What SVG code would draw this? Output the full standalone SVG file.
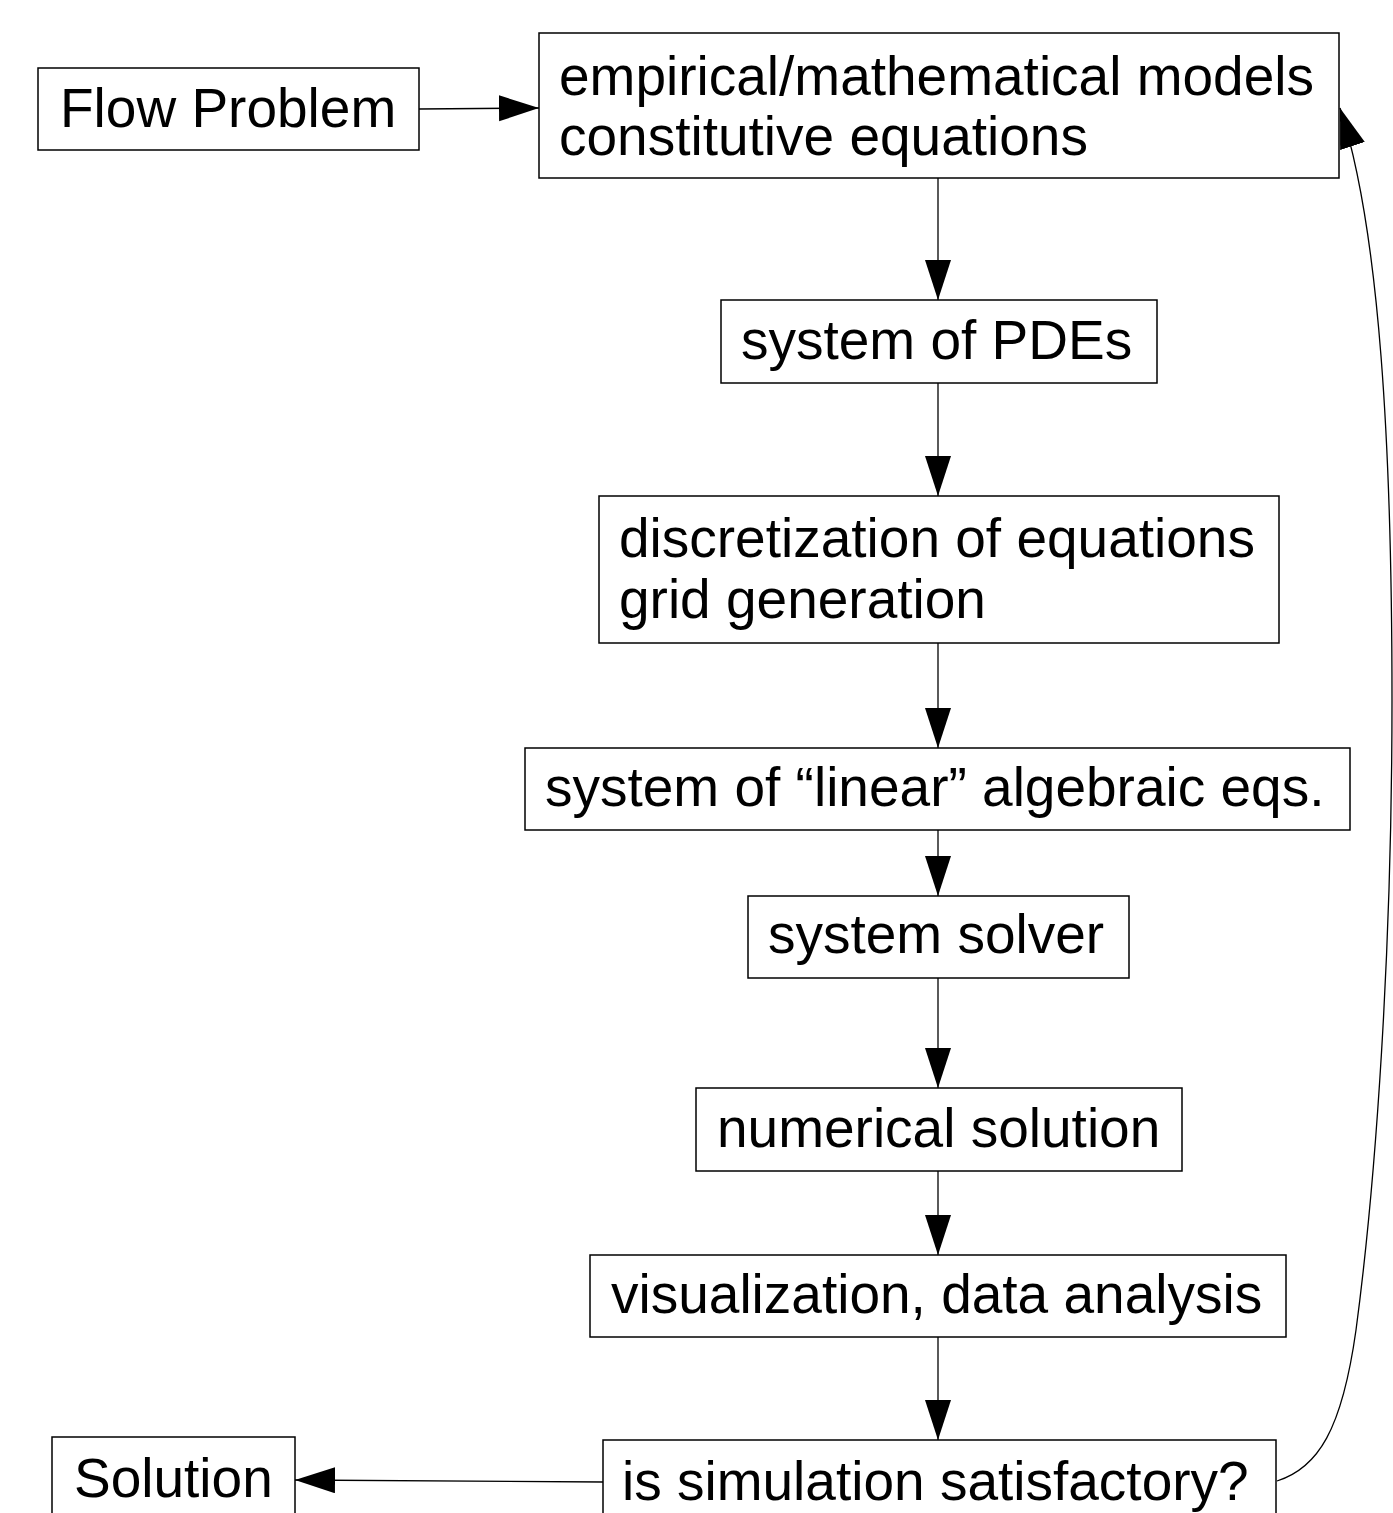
<svg xmlns="http://www.w3.org/2000/svg" width="1393" height="1513" viewBox="0 0 1393 1513">
<style>
.box{fill:#fff;stroke:#000;stroke-width:1.5}
.t{font-family:"Liberation Sans",Arial,sans-serif;font-size:55px;fill:#000}
.c{fill:none;stroke:#000;stroke-width:1.3}
</style>
<defs>
<marker id="ah" markerUnits="userSpaceOnUse" markerWidth="42" markerHeight="28" refX="40" refY="13" orient="auto">
<path d="M0,0 L40,13 L0,26 Z" fill="#000"/>
</marker>
</defs>
<rect width="1393" height="1513" fill="#fff"/>
<g id="connectors">
<path class="c" d="M419,109 L539,108" marker-end="url(#ah)"/>
<path class="c" d="M938,178 L938,300" marker-end="url(#ah)"/>
<path class="c" d="M938,383 L938,496" marker-end="url(#ah)"/>
<path class="c" d="M938,643 L938,748" marker-end="url(#ah)"/>
<path class="c" d="M938,830 L938,896" marker-end="url(#ah)"/>
<path class="c" d="M938,978 L938,1088" marker-end="url(#ah)"/>
<path class="c" d="M938,1171 L938,1255" marker-end="url(#ah)"/>
<path class="c" d="M938,1337 L938,1440" marker-end="url(#ah)"/>
<path class="c" d="M603,1482 L295,1480" marker-end="url(#ah)"/>
<path class="c" d="M1277,1481 C1318,1468 1342,1430 1356,1330 C1376,1180 1392,950 1392,700 C1392,450 1380,230 1340,108" marker-end="url(#ah)"/>
</g>
<g id="flow-problem"><rect class="box" x="38" y="68" width="381" height="82"/><text class="t" x="60" y="127">Flow Problem</text></g>
<g id="models"><rect class="box" x="539" y="33" width="800" height="145"/><text class="t" x="559" y="95">empirical/mathematical models</text><text class="t" x="559" y="155">constitutive equations</text></g>
<g id="pdes"><rect class="box" x="721" y="300" width="436" height="83"/><text class="t" x="741" y="359">system of PDEs</text></g>
<g id="discretization"><rect class="box" x="599" y="496" width="680" height="147"/><text class="t" x="619" y="557">discretization of equations</text><text class="t" x="619" y="618">grid generation</text></g>
<g id="linear"><rect class="box" x="525" y="748" width="825" height="82"/><text class="t" x="545" y="806">system of “linear” algebraic eqs.</text></g>
<g id="solver"><rect class="box" x="748" y="896" width="381" height="82"/><text class="t" x="768" y="953">system solver</text></g>
<g id="numerical"><rect class="box" x="696" y="1088" width="486" height="83"/><text class="t" x="717" y="1147">numerical solution</text></g>
<g id="visualization"><rect class="box" x="590" y="1255" width="696" height="82"/><text class="t" x="611" y="1313">visualization, data analysis</text></g>
<g id="satisfactory"><rect class="box" x="603" y="1440" width="673" height="90"/><text class="t" x="622" y="1500">is simulation satisfactory?</text></g>
<g id="solution"><rect class="box" x="52" y="1437" width="243" height="93"/><text class="t" x="74" y="1497">Solution</text></g>
</svg>
